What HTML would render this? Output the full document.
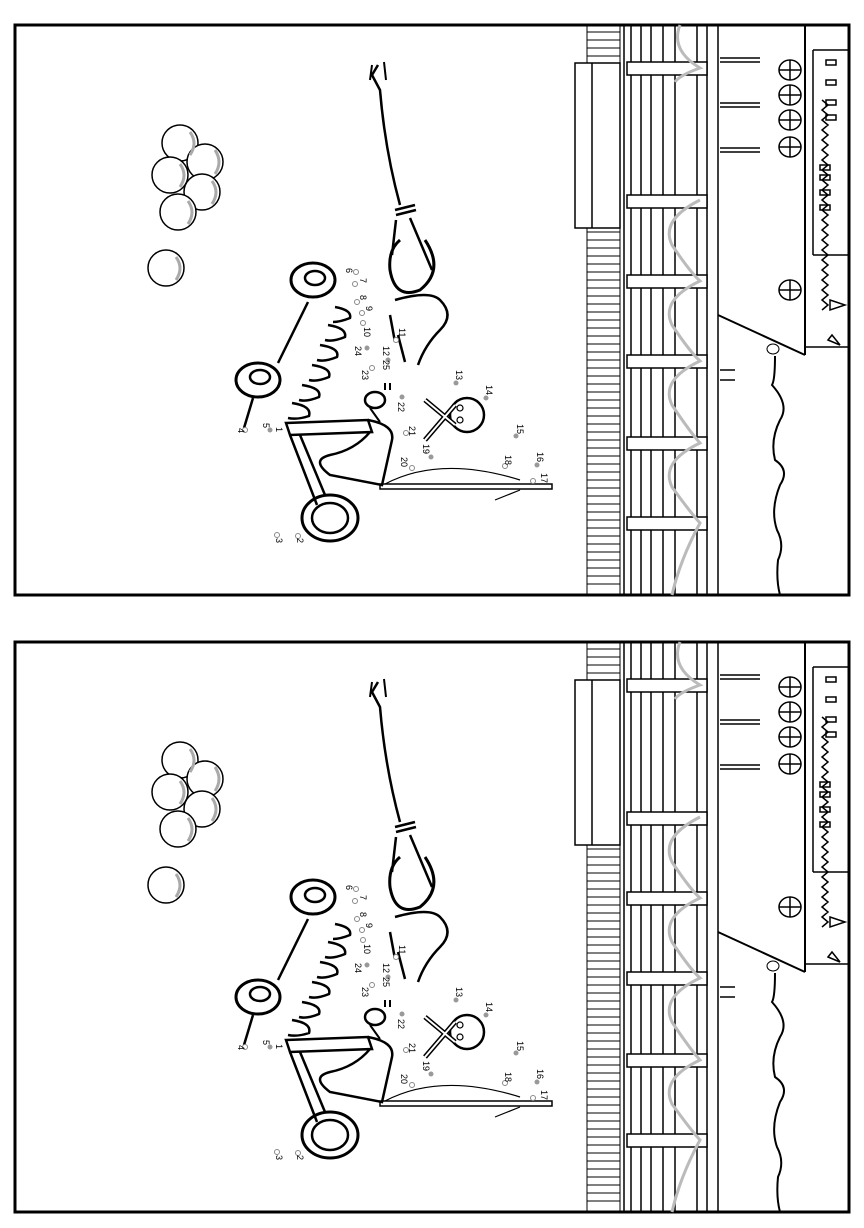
<!DOCTYPE html>
<html><head><meta charset="utf-8"><style>
html,body{margin:0;padding:0;background:#fff}
svg{display:block}
text{font-family:"Liberation Sans",sans-serif;font-size:9px;fill:#000}
</style></head><body>
<svg width="864" height="1228" viewBox="0 0 864 1228" xmlns="http://www.w3.org/2000/svg">
<defs>
<g id="p" fill="none" stroke="#000" stroke-width="2">
<rect x="15" y="25" width="834" height="570" stroke-width="3"/>
<g stroke-width="1">
<line x1="587" y1="25" x2="587" y2="595"/><line x1="620" y1="25" x2="620" y2="595"/>
<path d="M587 32H620M587 40H620M587 48H620M587 56H620M587 64H620 M587 232H620M587 240H620M587 248H620M587 256H620M587 264H620M587 272H620M587 280H620M587 288H620M587 296H620M587 304H620M587 312H620M587 320H620M587 328H620M587 336H620M587 344H620M587 352H620M587 360H620M587 368H620M587 376H620M587 384H620M587 392H620M587 400H620M587 408H620M587 416H620M587 424H620M587 432H620M587 440H620M587 448H620M587 456H620M587 464H620M587 472H620M587 480H620M587 488H620M587 496H620M587 504H620M587 512H620M587 520H620M587 528H620M587 536H620M587 544H620M587 552H620M587 560H620M587 568H620M587 576H620M587 584H620"/>
</g>
<rect x="575" y="63" width="45" height="165" fill="#fff" stroke-width="1.5"/>
<line x1="592" y1="63" x2="592" y2="228" stroke-width="1.5"/>
<g stroke-width="1.5">
<line x1="624" y1="25" x2="624" y2="595"/><line x1="631" y1="25" x2="631" y2="595"/>
<line x1="641" y1="25" x2="641" y2="595"/><line x1="651" y1="25" x2="651" y2="595"/>
<line x1="663" y1="25" x2="663" y2="595"/><line x1="675" y1="25" x2="675" y2="595"/>
<line x1="697" y1="25" x2="697" y2="595"/><line x1="707" y1="25" x2="707" y2="595"/>
<line x1="718" y1="25" x2="718" y2="595"/>
</g>
<g fill="#fff" stroke-width="1.5">
<rect x="627" y="62" width="80" height="13"/><rect x="627" y="195" width="80" height="13"/>
<rect x="627" y="275" width="80" height="13"/><rect x="627" y="355" width="80" height="13"/>
<rect x="627" y="437" width="80" height="13"/><rect x="627" y="517" width="80" height="13"/>
</g>
<path d="M680 25 Q670 50 700 68 Q680 75 675 82 M700 200 Q660 220 672 245 Q690 272 700 281 Q660 300 672 325 Q690 352 700 361 Q660 380 672 405 Q690 432 700 443 Q660 462 672 487 Q690 512 700 523 Q680 560 672 595" stroke="#bbb" stroke-width="3"/>
<line x1="805" y1="25" x2="805" y2="355" stroke-width="2"/>
<line x1="813" y1="50" x2="849" y2="50" stroke-width="1.5"/>
<line x1="813" y1="50" x2="813" y2="255" stroke-width="1.5"/>
<line x1="813" y1="255" x2="849" y2="255" stroke-width="1.5"/>
<line x1="718" y1="315" x2="805" y2="355" stroke-width="2"/>
<line x1="805" y1="347" x2="849" y2="347" stroke-width="1.5"/>
<path d="M775 356 Q775 380 772 385 Q790 405 780 420 Q770 440 775 460 Q790 470 780 485 Q770 510 777 530 Q785 545 778 560 Q776 580 780 595" stroke-width="2"/>
<ellipse cx="773" cy="349" rx="6" ry="5" stroke-width="1"/>
<g stroke-width="1.5">
<path d="M720 58H760M720 62H760M720 103H760M720 107H760M720 148H760M720 152H760"/>
<ellipse cx="790" cy="70" rx="11" ry="10"/><ellipse cx="790" cy="95" rx="11" ry="10"/>
<ellipse cx="790" cy="120" rx="11" ry="10"/><ellipse cx="790" cy="147" rx="11" ry="10"/>
<ellipse cx="790" cy="290" rx="11" ry="10"/>
<path d="M779 70H801M790 60V80M779 95H801M790 85V105M779 120H801M790 110V130M779 147H801M790 137V157M779 290H801M790 280V300"/>
<path d="M720 370H735M720 380H735"/>
<rect x="826" y="60" width="10" height="5"/><rect x="826" y="80" width="10" height="5"/><rect x="826" y="100" width="10" height="5"/><rect x="826" y="115" width="10" height="5"/>
<rect x="820" y="165" width="10" height="5"/><rect x="820" y="175" width="10" height="5"/><rect x="820" y="190" width="10" height="5"/><rect x="820" y="205" width="10" height="5"/>
<path d="M822 100 L828 105 L822 110 L828 115 L822 120 L828 125 L822 130 L828 135 L822 140 L828 145 L822 150 L828 155 L822 160 L828 165 L822 170 L828 175 L822 180 L828 185 L822 190 L828 195 L822 200 L828 205 L822 210 L828 215 L822 220 L828 225 L822 230 L828 235 L822 240 L828 245 L822 250 L828 255 L822 260 L828 265 L822 270 L828 275 L822 280 L828 285 L822 290 L828 295 L822 300 L828 305 L822 310"/>
<path d="M830 300 L845 305 L830 310Z M828 340 L840 345 L832 335Z"/>
</g>
<g stroke-width="1.5" fill="#fff">
<circle cx="180" cy="143" r="18"/><circle cx="205" cy="162" r="18"/><circle cx="170" cy="175" r="18"/>
<circle cx="202" cy="192" r="18"/><circle cx="178" cy="212" r="18"/><circle cx="166" cy="268" r="18"/>
</g>
<g stroke="#aaa" stroke-width="3">
<path d="M190 132 Q198 143 190 155"/><path d="M215 150 Q223 162 215 174"/><path d="M180 164 Q188 175 180 187"/>
<path d="M212 181 Q220 192 212 204"/><path d="M188 201 Q196 212 188 224"/><path d="M176 257 Q184 268 176 280"/>
</g>
<path d="M378 65 L372 75 L380 90 Q385 150 400 205" stroke-width="2.5"/>
<path d="M372 65 L370 80 M384 62 L386 80" stroke-width="2"/>
<path d="M395 210 L415 205 M396 215 L416 210 M396 220 L392 255 M410 218 L432 270" stroke-width="2.5"/>
<path d="M425 240 Q445 270 420 290 Q395 300 390 270 Q388 250 400 240" stroke-width="3"/>
<path d="M395 300 Q430 290 440 300 Q455 315 440 330 Q425 345 418 365 M390 315 L395 342 M398 335 L405 362" stroke-width="2.5"/>
<ellipse cx="313" cy="280" rx="22" ry="17" stroke-width="3"/><ellipse cx="315" cy="278" rx="10" ry="7" stroke-width="2.5"/>
<ellipse cx="258" cy="380" rx="22" ry="17" stroke-width="3"/><ellipse cx="260" cy="377" rx="10" ry="7" stroke-width="2.5"/>
<line x1="308" y1="302" x2="278" y2="363" stroke-width="2.5"/>
<line x1="253" y1="398" x2="244" y2="428" stroke-width="2.5"/>
<path d="M335 307 Q352 310 350 318 Q340 322 333 322 M328 325 Q347 328 345 337 Q333 342 325 340 M320 345 Q340 348 337 357 Q325 362 317 360 M312 365 Q332 368 329 377 Q317 382 309 380 M302 385 Q322 388 319 397 Q307 402 299 400 M292 403 Q312 406 309 416 Q297 420 288 418" stroke-width="2.5"/>
<path d="M286 423 L368 420 L372 432 L290 435 Z" stroke-width="2.5"/>
<path d="M290 435 L317 505 M300 435 L325 495" stroke-width="2.5"/>
<path d="M368 420 Q395 425 392 440 L382 485 L330 475 Q310 460 330 455 Q355 450 370 432" stroke-width="2.5"/>
<ellipse cx="375" cy="400" rx="10" ry="8" stroke-width="2.5"/>
<path d="M370 408 L380 422 M385 390 L385 383 M390 390 L390 383" stroke-width="2"/>
<rect x="380" y="484" width="172" height="5" stroke-width="1.5"/>
<path d="M385 484 Q440 455 520 480 M520 490 L495 500" stroke-width="1.2"/>
<ellipse cx="330" cy="518" rx="28" ry="23" stroke-width="3"/><ellipse cx="330" cy="518" rx="18" ry="15" stroke-width="2.5"/>
<circle cx="467" cy="415" r="17" stroke-width="2.5"/>
<path d="M425 400 L455 425 M425 440 L455 405" stroke-width="5"/>
<path d="M425 400 L455 425 M425 440 L455 405" stroke="#fff" stroke-width="2"/>
<circle cx="460" cy="408" r="3" stroke-width="1.2"/><circle cx="460" cy="420" r="3" stroke-width="1.2"/>
<g stroke="#888" stroke-width="1" fill="#fff">
<circle cx="356" cy="272" r="2.5"/><circle cx="355" cy="284" r="2.5"/><circle cx="357" cy="302" r="2.5"/><circle cx="362" cy="313" r="2.5"/><circle cx="363" cy="323" r="2.5"/>
<circle cx="396" cy="340" r="2.5"/><circle cx="372" cy="368" r="2.5"/><circle cx="406" cy="433" r="2.5"/><circle cx="412" cy="468" r="2.5"/><circle cx="505" cy="466" r="2.5"/><circle cx="533" cy="481" r="2.5"/>
<circle cx="245" cy="430" r="2.5"/><circle cx="298" cy="536" r="2.5"/><circle cx="277" cy="535" r="2.5"/>
</g>
<g fill="#999" stroke="none">
<circle cx="367" cy="348" r="2.5"/><circle cx="388" cy="360" r="2.5"/><circle cx="456" cy="383" r="2.5"/><circle cx="486" cy="398" r="2.5"/><circle cx="402" cy="397" r="2.5"/>
<circle cx="516" cy="436" r="2.5"/><circle cx="431" cy="457" r="2.5"/><circle cx="537" cy="465" r="2.5"/><circle cx="270" cy="430" r="2.5"/>
</g>
</g>
</defs>
<use href="#p"/>
<use href="#p" y="617"/>
<g transform="translate(0,0)">
<text transform="translate(346,268) rotate(90)">6</text>
<text transform="translate(360,278) rotate(90)">7</text>
<text transform="translate(360,295) rotate(90)">8</text>
<text transform="translate(366,306) rotate(90)">9</text>
<text transform="translate(364,327) rotate(90)">10</text>
<text transform="translate(355,346) rotate(90)">24</text>
<text transform="translate(399,328) rotate(90)">11</text>
<text transform="translate(383,346) rotate(90)">12</text>
<text transform="translate(383,360) rotate(90)">25</text>
<text transform="translate(362,370) rotate(90)">23</text>
<text transform="translate(456,370) rotate(90)">13</text>
<text transform="translate(486,385) rotate(90)">14</text>
<text transform="translate(398,402) rotate(90)">22</text>
<text transform="translate(409,426) rotate(90)">21</text>
<text transform="translate(517,424) rotate(90)">15</text>
<text transform="translate(423,444) rotate(90)">19</text>
<text transform="translate(401,457) rotate(90)">20</text>
<text transform="translate(505,455) rotate(90)">18</text>
<text transform="translate(537,452) rotate(90)">16</text>
<text transform="translate(541,473) rotate(90)">17</text>
<text transform="translate(263,423) rotate(90)">5</text>
<text transform="translate(276,427) rotate(90)">1</text>
<text transform="translate(238,428) rotate(90)">4</text>
<text transform="translate(297,538) rotate(90)">2</text>
<text transform="translate(276,538) rotate(90)">3</text>
</g>
<g transform="translate(0,617)">
<text transform="translate(346,268) rotate(90)">6</text>
<text transform="translate(360,278) rotate(90)">7</text>
<text transform="translate(360,295) rotate(90)">8</text>
<text transform="translate(366,306) rotate(90)">9</text>
<text transform="translate(364,327) rotate(90)">10</text>
<text transform="translate(355,346) rotate(90)">24</text>
<text transform="translate(399,328) rotate(90)">11</text>
<text transform="translate(383,346) rotate(90)">12</text>
<text transform="translate(383,360) rotate(90)">25</text>
<text transform="translate(362,370) rotate(90)">23</text>
<text transform="translate(456,370) rotate(90)">13</text>
<text transform="translate(486,385) rotate(90)">14</text>
<text transform="translate(398,402) rotate(90)">22</text>
<text transform="translate(409,426) rotate(90)">21</text>
<text transform="translate(517,424) rotate(90)">15</text>
<text transform="translate(423,444) rotate(90)">19</text>
<text transform="translate(401,457) rotate(90)">20</text>
<text transform="translate(505,455) rotate(90)">18</text>
<text transform="translate(537,452) rotate(90)">16</text>
<text transform="translate(541,473) rotate(90)">17</text>
<text transform="translate(263,423) rotate(90)">5</text>
<text transform="translate(276,427) rotate(90)">1</text>
<text transform="translate(238,428) rotate(90)">4</text>
<text transform="translate(297,538) rotate(90)">2</text>
<text transform="translate(276,538) rotate(90)">3</text>
</g>
</svg>
</body></html>
